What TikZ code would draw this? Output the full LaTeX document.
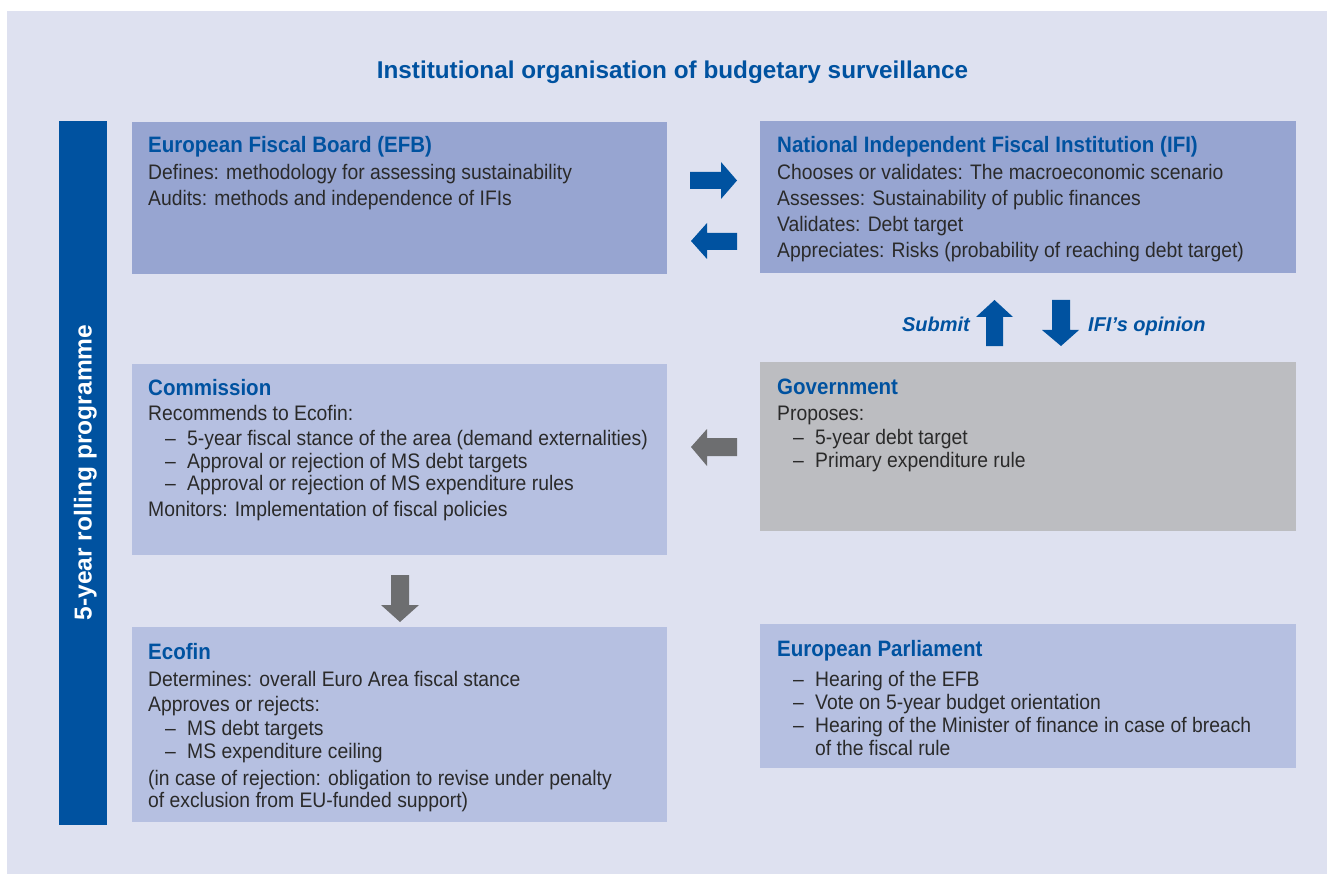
\documentclass[tikz,border=0pt]{standalone}
\usepackage{fontspec}
\setmainfont{Liberation Sans}
\newfontfamily\condfont{Liberation Sans}[FakeStretch=0.92]
\definecolor{panel}{HTML}{DEE1F0}
\definecolor{dblue}{HTML}{0052A0}
\definecolor{boxa}{HTML}{97A5D1}
\definecolor{boxb}{HTML}{B6C0E1}
\definecolor{boxg}{HTML}{BCBDC1}
\definecolor{agray}{HTML}{6D6E70}
\definecolor{txt}{HTML}{2A2A2A}
\tikzset{
  box/.style={anchor=north west, inner sep=0pt, outer sep=0pt, draw=none},
  hd/.style={anchor=base west, inner sep=0pt, text=dblue, font=\condfont\fontsize{22.3}{26}\selectfont\bfseries},
  tx/.style={anchor=base west, inner sep=0pt, text=txt, font=\condfont\fontsize{21}{25}\selectfont},
  bluearrow/.style={fill=dblue},
  grayarrow/.style={fill=agray},
  lbl/.style={inner sep=0pt, text=dblue, font=\fontsize{20}{24}\selectfont\bfseries\itshape}
}
\newcommand{\dashitem}[1]{\makebox[22pt][l]{–}#1}
\begin{document}
\begin{tikzpicture}[x=1pt,y=-1pt]
\fill[white] (0,0) rectangle (1327,874);
\useasboundingbox (0,0) rectangle (1327,874);
\fill[panel] (7,11) rectangle (1327,874);

% title
\node[anchor=base, inner sep=0pt, text=dblue, font=\fontsize{24.3}{28}\selectfont\bfseries] (title) at (672.5,79) {Institutional organisation of budgetary surveillance};

% vertical bar
\node[box, fill=dblue, minimum width=48pt, minimum height=704pt] (bar) at (59,121) {};
\node[rotate=90, anchor=base, inner sep=0pt, text=white, font=\fontsize{24.5}{28}\selectfont\bfseries] (bartext) at (91.5,472.5) {5-year rolling programme};

% boxes
\node[box, fill=boxa, minimum width=535pt, minimum height=152pt] (efb) at (132,122) {};
\node[box, fill=boxa, minimum width=536pt, minimum height=152pt] (ifi) at (760,121) {};
\node[box, fill=boxb, minimum width=535pt, minimum height=191pt] (com) at (132,364) {};
\node[box, fill=boxg, minimum width=536pt, minimum height=169pt] (gov) at (760,362) {};
\node[box, fill=boxb, minimum width=535pt, minimum height=195pt] (eco) at (132,627) {};
\node[box, fill=boxb, minimum width=536pt, minimum height=144pt] (ep) at (760,624) {};

% EFB text
\node[hd] (efbh) at (148,153) {European Fiscal Board (EFB)};
\node[tx] (efb1) at (148,180) {Defines: methodology for assessing sustainability};
\node[tx] (efb2) at (148,206) {Audits: methods and independence of IFIs};

% IFI text
\node[hd] (ifih) at (777,153) {National Independent Fiscal Institution (IFI)};
\node[tx] (ifi1) at (777,180) {Chooses or validates: The macroeconomic scenario};
\node[tx] (ifi2) at (777,206) {Assesses: Sustainability of public finances};
\node[tx] (ifi3) at (777,232) {Validates: Debt target};
\node[tx] (ifi4) at (777,258) {Appreciates: Risks (probability of reaching debt target)};

% Commission text
\node[hd] (comh) at (148,395) {Commission};
\node[tx] (com1) at (148,420) {Recommends to Ecofin:};
\node[tx] (com2) at (165,445) {\dashitem{5-year fiscal stance of the area (demand externalities)}};
\node[tx] (com3) at (165,468) {\dashitem{Approval or rejection of MS debt targets}};
\node[tx] (com4) at (165,490) {\dashitem{Approval or rejection of MS expenditure rules}};
\node[tx] (com5) at (148,516) {Monitors: Implementation of fiscal policies};

% Government text
\node[hd] (govh) at (777,394) {Government};
\node[tx] (gov1) at (777,420) {Proposes:};
\node[tx] (gov2) at (793,444) {\dashitem{5-year debt target}};
\node[tx] (gov3) at (793,467) {\dashitem{Primary expenditure rule}};

% Ecofin text
\node[hd] (ecoh) at (148,659) {Ecofin};
\node[tx] (eco1) at (148,686) {Determines: overall Euro Area fiscal stance};
\node[tx] (eco2) at (148,711) {Approves or rejects:};
\node[tx] (eco3) at (165,735) {\dashitem{MS debt targets}};
\node[tx] (eco4) at (165,758) {\dashitem{MS expenditure ceiling}};
\node[tx] (eco5) at (148,785) {(in case of rejection: obligation to revise under penalty};
\node[tx] (eco6) at (148,807) {of exclusion from EU-funded support)};

% EP text
\node[hd] (eph) at (777,656) {European Parliament};
\node[tx] (ep1) at (793,686) {\dashitem{Hearing of the EFB}};
\node[tx] (ep2) at (793,709) {\dashitem{Vote on 5-year budget orientation}};
\node[tx] (ep3) at (793,732) {\dashitem{Hearing of the Minister of finance in case of breach}};
\node[tx] (ep4) at (815,755) {of the fiscal rule};

% arrows
\fill[bluearrow] (690,172) -- (721,172) -- (721,162) -- (737,180.5) -- (721,199) -- (721,189) -- (690,189) -- cycle;
\fill[bluearrow] (737,233) -- (707,233) -- (707,223) -- (691,241) -- (707,259) -- (707,250) -- (737,250) -- cycle;
\fill[bluearrow] (986,346) -- (986,317) -- (976,317) -- (994.5,300) -- (1013,317) -- (1003,317) -- (1003,346) -- cycle;
\fill[bluearrow] (1052,300) -- (1070,300) -- (1070,330) -- (1079,330) -- (1061,346) -- (1042,330) -- (1052,330) -- cycle;
\fill[grayarrow] (737,438) -- (707,438) -- (707,429) -- (691,447) -- (707,466) -- (707,456) -- (737,456) -- cycle;
\fill[grayarrow] (391,575) -- (409,575) -- (409,605) -- (419,605) -- (400,622) -- (381,605) -- (391,605) -- cycle;

\node[lbl, anchor=base east] (submit) at (970,331) {Submit};
\node[lbl, anchor=base west] (opinion) at (1088,331) {IFI’s opinion};
\end{tikzpicture}
\end{document}
